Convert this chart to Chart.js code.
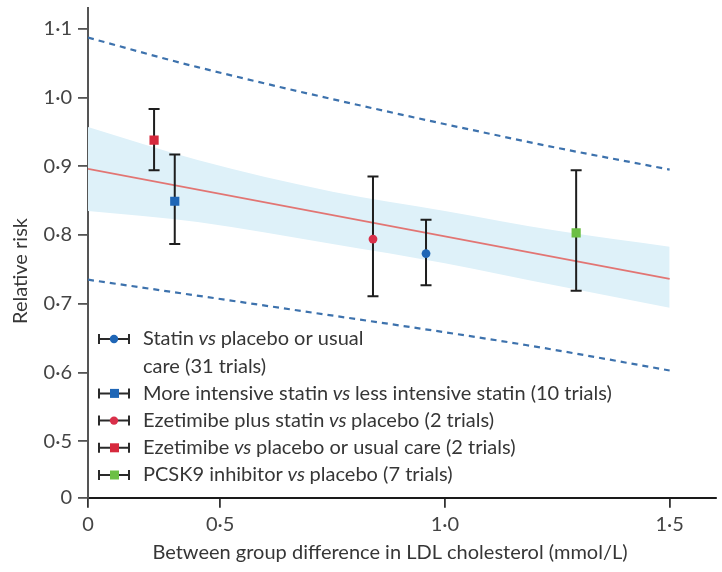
<!DOCTYPE html>
<html>
<head>
<meta charset="utf-8">
<script src="https://cdn.jsdelivr.net/npm/chart.js@4"></script>
<style>
  html, body { margin: 0; padding: 0; background: #fff; }
  #wrap { width: 722px; height: 572px; position: relative; }
</style>
</head>
<body>
<div id="wrap"><canvas id="rrChart"></canvas></div>
<script>
// -----------------------
// Data
// -----------------------
// axis ticks (the axes are broken, so "0" sits at the axis origin)
const xTickValues = [0.206, 0.5, 1.0, 1.5];
const xTickLabels = ['0', '0·5', '1·0', '1·5'];
const yTickValues = [0.418, 0.5, 0.6, 0.7, 0.8, 0.9, 1.0, 1.1];
const yTickLabels = ['0', '0·5', '0·6', '0·7', '0·8', '0·9', '1·0', '1·1'];

// meta-regression line
const fitX = [0.206, 1.5];
const fitY = [0.896, 0.736];

// 95% confidence band
const bandX = [0.206, 0.45, 0.75, 1.0, 1.25, 1.5];
const bandUpper = [0.957, 0.909, 0.863, 0.835, 0.806, 0.783];
const bandLower = [0.835, 0.819, 0.787, 0.759, 0.726, 0.694];

// prediction limits (dashed)
const upperPiX = [0.206, 0.45, 1.18, 1.5];
const upperPiY = [1.087, 1.044, 0.936, 0.895];
const lowerPiX = [0.206, 0.634, 1.18, 1.5];
const lowerPiY = [0.735, 0.694, 0.640, 0.603];

// trial groups
const trialNames = [
  'Statin vs placebo or usual\ncare (31 trials)',
  'More intensive statin vs less intensive statin (10 trials)',
  'Ezetimibe plus statin vs placebo (2 trials)',
  'Ezetimibe vs placebo or usual care (2 trials)',
  'PCSK9 inhibitor vs placebo (7 trials)'
];
const trialX    = [0.958, 0.399, 0.840, 0.353, 1.292];
const trialRR   = [0.773, 0.849, 0.794, 0.938, 0.803];
const trialLow  = [0.727, 0.787, 0.711, 0.894, 0.719];
const trialHigh = [0.822, 0.917, 0.885, 0.983, 0.894];

// styling per group
const trialColors = ['#1f66b6', '#1f66b6', '#d9304a', '#d6293d', '#6cbf45'];
const trialShapes = ['circle', 'rect', 'circle', 'rect', 'rect'];

const FONT = 'Lato, "Open Sans", sans-serif';
const pts = (xs, ys) => xs.map((x, i) => ({ x, y: ys[i] }));

// error bars, drawn just before the markers so they sit on top of the band
const errorBars = {
  id: 'errorBars',
  beforeDatasetDraw(chart, args) {
    if (args.index !== 0) return;
    const { ctx, scales: { x, y } } = chart;
    ctx.save();
    ctx.strokeStyle = '#1e1e1e';
    ctx.lineWidth = 2;
    trialX.forEach((v, i) => {
      const px = x.getPixelForValue(v);
      const top = y.getPixelForValue(trialHigh[i]);
      const bot = y.getPixelForValue(trialLow[i]);
      ctx.beginPath();
      ctx.moveTo(px, top); ctx.lineTo(px, bot);
      ctx.moveTo(px - 5.5, top); ctx.lineTo(px + 5.5, top);
      ctx.moveTo(px - 5.5, bot); ctx.lineTo(px + 5.5, bot);
      ctx.stroke();
    });
    ctx.restore();
  }
};

// legend with error-bar symbols and italic "vs", plus axis titles
const customText = {
  id: 'customText',
  afterDraw(chart) {
    const { ctx } = chart;
    ctx.save();
    ctx.textBaseline = 'middle';
    let line = 0;
    trialNames.forEach((name, i) => {
      const rows = name.split('\n');
      const cy = 339 + line * 27.2;
      // symbol
      ctx.strokeStyle = '#2a2a2a';
      ctx.lineWidth = 2;
      ctx.beginPath();
      ctx.moveTo(99, cy); ctx.lineTo(129, cy);
      ctx.moveTo(99, cy - 5); ctx.lineTo(99, cy + 5);
      ctx.moveTo(129, cy - 5); ctx.lineTo(129, cy + 5);
      ctx.stroke();
      ctx.fillStyle = trialColors[i];
      if (trialShapes[i] === 'circle') {
        ctx.beginPath(); ctx.arc(114, cy, 4.2, 0, Math.PI * 2); ctx.fill();
      } else {
        ctx.fillRect(110, cy - 4.5, 9, 9);
      }
      // text
      rows.forEach((row, r) => {
        const ty = 339 + (line + r) * 27.2;
        let tx = 143;
        row.split(/( vs )/).forEach(part => {
          const italic = part === ' vs ';
          ctx.font = (italic ? 'italic ' : '') + '20px ' + FONT;
          ctx.fillStyle = '#363636';
          ctx.fillText(part, tx, ty);
          tx += ctx.measureText(part).width;
        });
      });
      line += rows.length;
    });

    // axis titles
    ctx.fillStyle = '#363636';
    ctx.font = '20px ' + FONT;
    ctx.textAlign = 'center';
    ctx.fillText('Between group difference in LDL cholesterol (mmol/L)', 390, 553);
    ctx.translate(21, 271);
    ctx.rotate(-Math.PI / 2);
    ctx.fillText('Relative risk', 0, 0);
    ctx.restore();
  }
};

function initChart() {
  const ctx = document.getElementById('rrChart').getContext('2d');
  new Chart(ctx, {
    type: 'line',
    data: {
      datasets: [
        {
          type: 'scatter',
          label: 'Trials',
          data: pts(trialX, trialRR),
          pointStyle: trialShapes,
          pointRadius: trialShapes.map(s => s === 'rect' ? 6.5 : 4.4),
          pointBackgroundColor: trialColors,
          pointBorderWidth: 0
        },
        {
          label: 'Regression',
          data: pts(fitX, fitY),
          borderColor: '#e27573',
          borderWidth: 1.8,
          pointRadius: 0
        },
        {
          label: 'Upper prediction',
          data: pts(upperPiX, upperPiY),
          borderColor: '#3d72ad',
          borderWidth: 2.2,
          borderDash: [6, 5],
          cubicInterpolationMode: 'monotone',
          pointRadius: 0
        },
        {
          label: 'Lower prediction',
          data: pts(lowerPiX, lowerPiY),
          borderColor: '#3d72ad',
          borderWidth: 2.2,
          borderDash: [6, 5],
          cubicInterpolationMode: 'monotone',
          pointRadius: 0
        },
        {
          label: 'CI upper',
          data: pts(bandX, bandUpper),
          borderWidth: 0,
          borderColor: 'rgba(0,0,0,0)',
          backgroundColor: '#def1f9',
          cubicInterpolationMode: 'monotone',
          pointRadius: 0,
          fill: '+1'
        },
        {
          label: 'CI lower',
          data: pts(bandX, bandLower),
          borderWidth: 0,
          borderColor: 'rgba(0,0,0,0)',
          cubicInterpolationMode: 'monotone',
          pointRadius: 0,
          fill: false
        }
      ]
    },
    options: {
      responsive: true,
      maintainAspectRatio: false,
      animation: false,
      layout: { padding: { top: 8, right: 0, left: 0, bottom: 0 } },
      plugins: { legend: { display: false }, tooltip: { enabled: false } },
      scales: {
        x: {
          type: 'linear',
          min: 0.206,
          max: 1.602,
          afterBuildTicks: axis => { axis.ticks = xTickValues.map(v => ({ value: v })); },
          afterFit: axis => {
            axis.height = 74.3;
            axis.paddingLeft = 0;
            axis.paddingRight = 0;
          },
          ticks: {
            callback: v => xTickLabels[xTickValues.indexOf(v)],
            color: '#444',
            font: { family: FONT, size: 20 },
            padding: 5,
            maxRotation: 0,
            autoSkip: false
          },
          grid: { drawOnChartArea: false, tickLength: 10, color: '#333', lineWidth: 1.8 },
          border: { color: '#1a1a1a', width: 2 }
        },
        y: {
          type: 'linear',
          min: 0.418,
          max: 1.130,
          afterBuildTicks: axis => { axis.ticks = yTickValues.map(v => ({ value: v })); },
          afterFit: axis => {
            axis.width = 88;
            axis.paddingTop = 0;
            axis.paddingBottom = 0;
          },
          ticks: {
            callback: v => yTickLabels[yTickValues.indexOf(v)],
            color: '#444',
            font: { family: FONT, size: 20 },
            padding: 6,
            autoSkip: false
          },
          grid: { drawOnChartArea: false, tickLength: 10, color: '#555', lineWidth: 1.8 },
          border: { color: '#555', width: 2 }
        }
      }
    },
    plugins: [errorBars, customText]
  });
}

document.addEventListener('DOMContentLoaded', initChart);
</script>
</body>
</html>
